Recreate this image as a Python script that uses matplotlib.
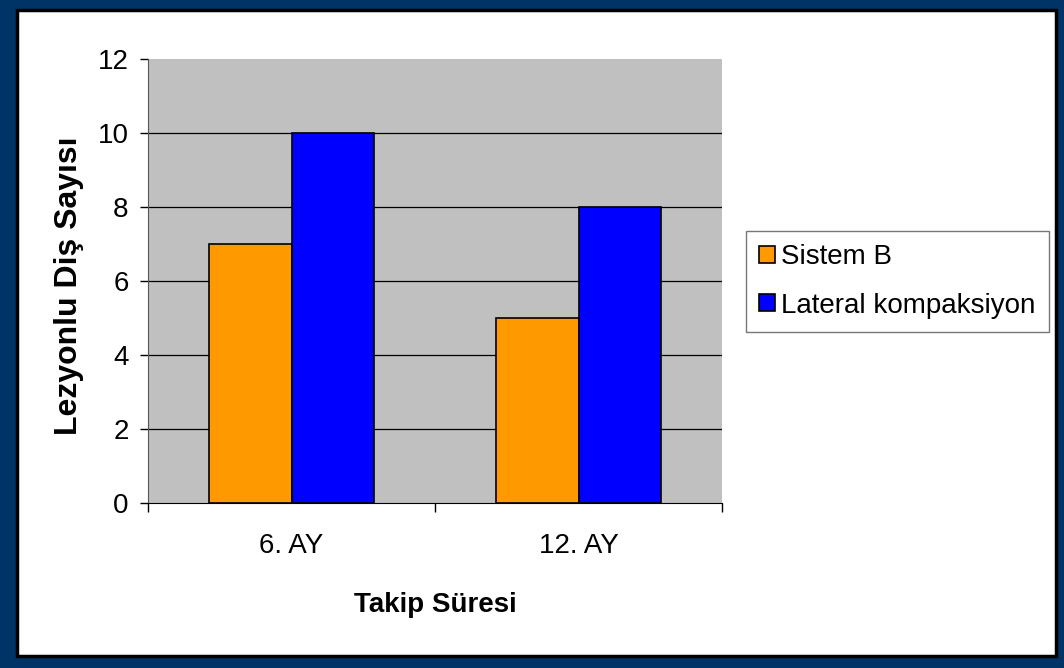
import matplotlib
matplotlib.use('Agg')
import matplotlib.pyplot as plt
import matplotlib.patches as mpatches
import numpy as np

# Chart data
periods = ['6. AY', '12. AY']
sistem_b = [7, 5]
lateral = [10, 8]
series_names = ['Sistem B', 'Lateral kompaksiyon']
yticks = [0, 2, 4, 6, 8, 10, 12]

plt.rcParams['font.family'] = ['Liberation Sans', 'DejaVu Sans']

W, H = 1064, 668
fig = plt.figure(figsize=(W / 100, H / 100), dpi=100)
fig.patch.set_facecolor('#003366')

# White panel with a dark outline inside the blue frame
panel = mpatches.Rectangle((17 / W, 1 - 656 / H), (1056 - 17) / W, (656 - 10) / H,
                           transform=fig.transFigure, facecolor='white',
                           edgecolor='black', linewidth=2.5, zorder=-10)
fig.patches.append(panel)

ax = fig.add_axes([148 / W, 1 - 503 / H, (722 - 148) / W, (503 - 59) / H])
ax.set_zorder(1)
ax.set_facecolor('#C0C0C0')

x = np.arange(len(periods))
bw = 0.286
ax.bar(x - bw / 2, sistem_b, bw, color='#FF9900', edgecolor='black', linewidth=1.2,
       label=series_names[0], zorder=3)
ax.bar(x + bw / 2, lateral, bw, color='#0000FF', edgecolor='black', linewidth=1.2,
       label=series_names[1], zorder=3)

ax.set_xlim(-0.5, len(periods) - 0.5)
ax.set_ylim(0, 12)
ax.set_yticks(yticks)
ax.set_yticklabels([str(v) for v in yticks], fontsize=20)

# Horizontal gridlines (none at the top edge)
for v in yticks[1:-1]:
    ax.axhline(v, color='black', linewidth=0.9, zorder=1)

# Category labels centred, tick marks at category boundaries
ax.set_xticks([-0.5, 0.5, 1.5])
ax.set_xticklabels([])
ax.set_xticks(x, minor=True)
ax.set_xticklabels(periods, minor=True, fontsize=20)
ax.tick_params(axis='x', which='minor', length=0, pad=21.5)
ax.tick_params(axis='x', which='major', length=6.5, width=1, color='black', direction='out')
ax.tick_params(axis='y', length=6, width=1, direction='out', pad=8)

for side in ['top', 'right']:
    ax.spines[side].set_visible(False)
ax.spines['left'].set_color('#555555')
ax.spines['bottom'].set_color('black')

ax.set_ylabel('Lezyonlu Diş Sayısı', fontsize=23, fontweight='bold')
ax.yaxis.set_label_coords(-0.1115, 0.49)
ax.set_xlabel('Takip Süresi', fontsize=20, fontweight='bold')
ax.xaxis.set_label_coords(0.5, -0.2)

leg = ax.legend(loc='upper left', bbox_to_anchor=(746 / W, 1 - 231 / H),
                bbox_transform=fig.transFigure, fontsize=20, frameon=True,
                fancybox=False, edgecolor='#555555', handlelength=0.58,
                handleheight=0.58, handletextpad=0.2, borderpad=0.48,
                labelspacing=0.8, borderaxespad=0)
leg.get_frame().set_linewidth(1)

fig.savefig('out.png', dpi=100)
